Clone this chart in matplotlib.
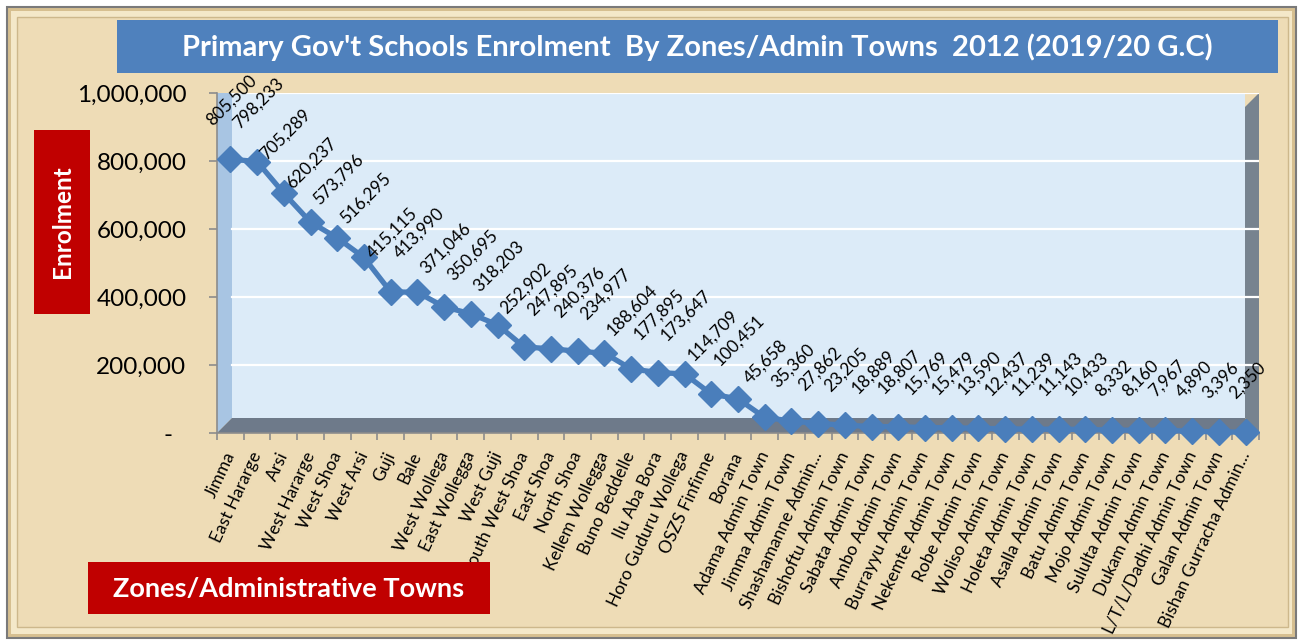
import matplotlib
matplotlib.use("Agg")
import matplotlib.pyplot as plt
from matplotlib.patches import Polygon, Rectangle
from matplotlib.ticker import FuncFormatter
import matplotlib.transforms as mtransforms

categories = ["Jimma", "East Hararge", "Arsi", "West Hararge", "West Shoa", "West Arsi",
              "Guji", "Bale", "West Wollega", "East Wollegga", "West Guji", "South West Shoa",
              "East Shoa", "North Shoa", "Kellem Wollegga", "Buno Beddelle", "Ilu Aba Bora",
              "Horo Guduru Wollega", "OSZS Finfinne", "Borana", "Adama Admin Town",
              "Jimma Admin Town", "Shashamanne Admin...", "Bishoftu Admin Town",
              "Sabata Admin Town", "Ambo Admin Town", "Burrayyu Admin Town",
              "Nekemte Admin Town", "Robe Admin Town", "Woliso Admin Town",
              "Holeta Admin Town", "Asalla Admin Town", "Batu Admin Town", "Mojo Admin Town",
              "Sululta Admin Town", "Dukam Admin Town", "L/T/L/Dadhi Admin Town",
              "Galan Admin Town", "Bishan Gurracha Admin..."]
enrolment = [805500, 798233, 705289, 620237, 573796, 516295, 415115, 413990, 371046,
             350695, 318203, 252902, 247895, 240376, 234977, 188604, 177895, 173647,
             114709, 100451, 45658, 35360, 27862, 23205, 18889, 18807, 15769, 15479,
             13590, 12437, 11239, 11143, 10433, 8332, 8160, 7967, 4890, 3396, 2350]
y_ticks = [0, 200000, 400000, 600000, 800000, 1000000]

title = "Primary Gov't Schools Enrolment  By Zones/Admin Towns  2012 (2019/20 G.C)"
y_title = "Enrolment"
x_title = "Zones/Administrative Towns"

FONT = "Lato"
plt.rcParams['font.family'] = [FONT, 'DejaVu Sans']

W, H = 1303, 644
fig = plt.figure(figsize=(W / 100, H / 100), dpi=100)
fig.patch.set_facecolor('white')


def fx(x):
    return x / W


def fy(y):
    return 1 - y / H


def frect(x0, y0, x1, y1, **kw):
    r = Rectangle((fx(x0), fy(y1)), fx(x1) - fx(x0), fy(y0) - fy(y1),
                  transform=fig.transFigure, **kw)
    fig.patches.append(r)
    return r


def fpoly(pts, **kw):
    p = Polygon([(fx(a), fy(b)) for a, b in pts], closed=True,
                transform=fig.transFigure, **kw)
    fig.patches.append(p)
    return p


# frame / parchment background
frect(7, 7, 1296, 638, facecolor='#d6bf90', edgecolor='#7a7a7a', lw=1.5, zorder=-20)
frect(11, 11, 1292, 634, facecolor='#f4e8c9', edgecolor='none', zorder=-19)
frect(17, 17, 1288, 627, facecolor='#eedcb6', edgecolor='#cdb88c', lw=1.0, zorder=-18)

# 3D walls
fpoly([(232, 93), (1245, 93), (1245, 418), (232, 418)], facecolor='#dcebf8',
      edgecolor='none', zorder=-10)
fpoly([(217, 93), (232, 93), (232, 418), (217, 433)], facecolor='#a8c5e3',
      edgecolor='none', zorder=-10)
fpoly([(217, 433), (232, 418), (1245, 418), (1259, 433)], facecolor='#6e7a8a',
      edgecolor='none', zorder=-10)
fpoly([(1245, 107), (1259, 93), (1259, 433), (1245, 418)], facecolor='#77838f',
      edgecolor='none', zorder=-10)

# title box
frect(117, 20, 1278, 73, facecolor='#4f81bd', edgecolor='none', zorder=2)
fig.text(fx(697), fy(47), title, color='white', fontsize=21, fontweight='bold',
         ha='center', va='center', zorder=3)

# y title box
frect(34, 130, 90, 314, facecolor='#c00000', edgecolor='none', zorder=2)
fig.text(fx(62), fy(222), y_title, color='white', fontsize=17.5, fontweight='bold',
         rotation=90, ha='center', va='center', zorder=3)

# x title box
frect(88, 562, 490, 614, facecolor='#c00000', edgecolor='none', zorder=2)
fig.text(fx(289), fy(589), x_title, color='white', fontsize=19.5, fontweight='bold',
         ha='center', va='center', zorder=3)

# axes
ax = fig.add_axes([fx(217), fy(433), fx(1259) - fx(217), fy(93) - fy(433)])
ax.patch.set_visible(False)
n = len(categories)
ax.set_xlim(-0.5, n - 0.5)
ax.set_ylim(0, 1000000)

wall_left = (232 - 217) / (1259 - 217)
for yt in y_ticks[1:]:
    ax.axhline(yt, xmin=wall_left, xmax=1, color='white', lw=1.6, zorder=1)

xs = list(range(n))
ax.plot(xs, enrolment, color='#4a7ebb', lw=3.8, marker='D', markersize=13,
        markeredgecolor='#4a7ebb', zorder=5, clip_on=False)

for x, v in zip(xs, enrolment):
    ax.annotate(f'{v:,}', (x, v), xytext=(1, 22), textcoords='offset points',
                rotation=45, ha='center', va='bottom', fontsize=12.4, color='black',
                zorder=6, annotation_clip=False)

for s in ['top', 'right']:
    ax.spines[s].set_visible(False)
for s in ['left', 'bottom']:
    ax.spines[s].set_color('#8c8c8c')
    ax.spines[s].set_linewidth(1.2)

ax.set_yticks(y_ticks)
ax.yaxis.set_major_formatter(FuncFormatter(lambda v, _: '-' if v == 0 else f'{v:,.0f}'))
ax.tick_params(axis='y', length=6, width=1.2, color='#8c8c8c', pad=16, labelsize=17.5)
zero_tick = ax.yaxis.get_major_ticks()[0]
zero_tick.label1.set_transform(zero_tick.label1.get_transform() +
                               mtransforms.ScaledTranslation(-0.14, 0, fig.dpi_scale_trans))

ax.set_xticks([i + 0.5 for i in range(-1, n)], minor=False)
ax.set_xticklabels([''] * (n + 1))
ax.set_xticks(xs, minor=True)
ax.set_xticklabels(categories, minor=True, rotation=65, ha='right', va='center',
                   rotation_mode='anchor', fontsize=12.5)
ax.tick_params(axis='x', which='major', length=5, width=1.2, color='#8c8c8c')
ax.tick_params(axis='x', which='minor', length=0, pad=14)

fig.savefig('out.png', dpi=100, facecolor=fig.get_facecolor())
